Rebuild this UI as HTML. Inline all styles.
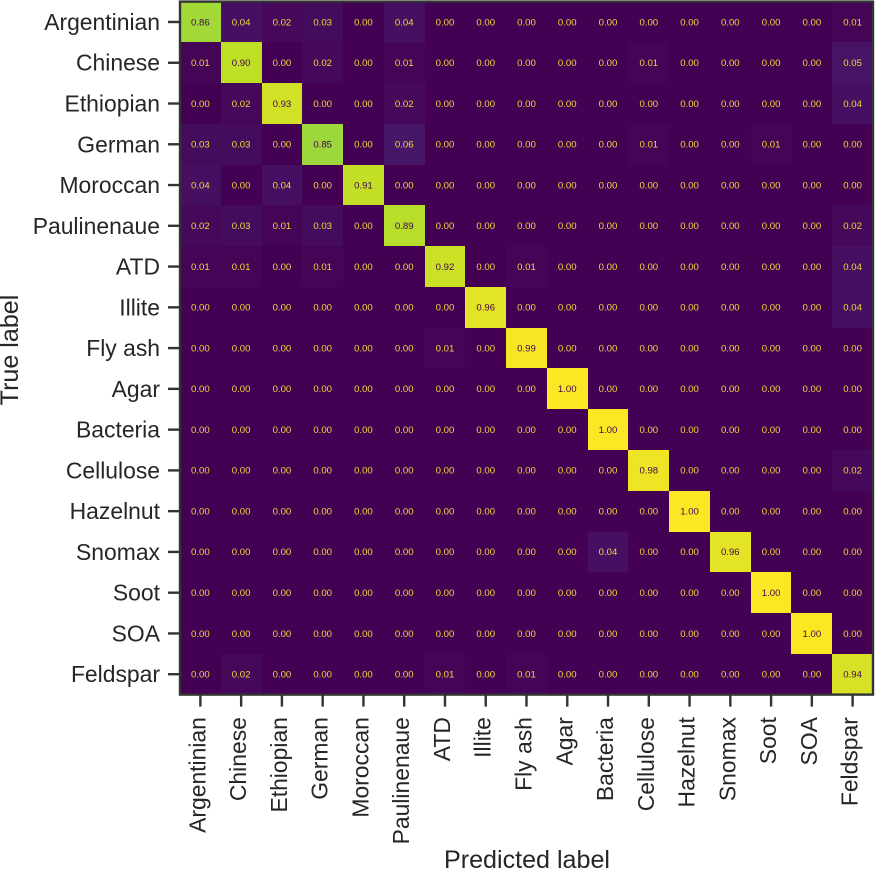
<!DOCTYPE html>
<html lang="en">
<head>
<meta charset="utf-8">
<title>Confusion matrix</title>
<style>
html,body{margin:0;padding:0;background:#fff;width:875px;height:869px;overflow:hidden}
svg{display:block;font-family:"Liberation Sans",Arial,sans-serif}
</style>
</head>
<body>
<svg id="chart" xmlns="http://www.w3.org/2000/svg" width="875" height="869" viewBox="0 0 875 869">
<rect x="0" y="0" width="875" height="869" fill="#ffffff"/>
<g id="cells"></g>
<g id="values"></g>
<g id="xaxis"></g>
<g id="yaxis"></g>
<rect id="frame" fill="none" stroke="#333333" stroke-width="2.4"/>
<text x="527" y="868" text-anchor="middle" font-size="25.1" fill="#262626">Predicted label</text>
<text transform="translate(18,350) rotate(-90)" text-anchor="middle" font-size="25.1" fill="#262626">True label</text>
</svg>
<script>
const classLabels = ["Argentinian","Chinese","Ethiopian","German","Moroccan","Paulinenaue","ATD","Illite","Fly ash","Agar","Bacteria","Cellulose","Hazelnut","Snomax","Soot","SOA","Feldspar"];
const rowArgentinian = [0.86,0.04,0.02,0.03,0,0.04,0,0,0,0,0,0,0,0,0,0,0.01];
const rowChinese     = [0.01,0.90,0,0.02,0,0.01,0,0,0,0,0,0.01,0,0,0,0,0.05];
const rowEthiopian   = [0,0.02,0.93,0,0,0.02,0,0,0,0,0,0,0,0,0,0,0.04];
const rowGerman      = [0.03,0.03,0,0.85,0,0.06,0,0,0,0,0,0.01,0,0,0.01,0,0];
const rowMoroccan    = [0.04,0,0.04,0,0.91,0,0,0,0,0,0,0,0,0,0,0,0];
const rowPaulinenaue = [0.02,0.03,0.01,0.03,0,0.89,0,0,0,0,0,0,0,0,0,0,0.02];
const rowATD         = [0.01,0.01,0,0.01,0,0,0.92,0,0.01,0,0,0,0,0,0,0,0.04];
const rowIllite      = [0,0,0,0,0,0,0,0.96,0,0,0,0,0,0,0,0,0.04];
const rowFlyAsh      = [0,0,0,0,0,0,0.01,0,0.99,0,0,0,0,0,0,0,0];
const rowAgar        = [0,0,0,0,0,0,0,0,0,1.00,0,0,0,0,0,0,0];
const rowBacteria    = [0,0,0,0,0,0,0,0,0,0,1.00,0,0,0,0,0,0];
const rowCellulose   = [0,0,0,0,0,0,0,0,0,0,0,0.98,0,0,0,0,0.02];
const rowHazelnut    = [0,0,0,0,0,0,0,0,0,0,0,0,1.00,0,0,0,0];
const rowSnomax      = [0,0,0,0,0,0,0,0,0,0,0.04,0,0,0.96,0,0,0];
const rowSoot        = [0,0,0,0,0,0,0,0,0,0,0,0,0,0,1.00,0,0];
const rowSOA         = [0,0,0,0,0,0,0,0,0,0,0,0,0,0,0,1.00,0];
const rowFeldspar    = [0,0.02,0,0,0,0,0.01,0,0.01,0,0,0,0,0,0,0,0.94];
const matrixRows = [rowArgentinian,rowChinese,rowEthiopian,rowGerman,rowMoroccan,rowPaulinenaue,rowATD,rowIllite,rowFlyAsh,rowAgar,rowBacteria,rowCellulose,rowHazelnut,rowSnomax,rowSoot,rowSOA,rowFeldspar];

const NS = "http://www.w3.org/2000/svg";
const plotLeft = 180, plotTop = 1.6, plotSize = 693;
const n = classLabels.length;
const band = plotSize / n;
const xScale = function (i) { return plotLeft + i * band; };
const yScale = function (i) { return plotTop + i * band; };

const viridisStops = [[68,1,84],[72,36,117],[65,68,135],[53,95,141],[42,120,142],[33,145,140],[34,168,132],[68,191,112],[122,209,81],[189,223,38],[253,231,37]];
function viridis(v) {
  const t = Math.max(0, Math.min(1, v)) * (viridisStops.length - 1);
  const i = Math.min(Math.floor(t), viridisStops.length - 2);
  const f = t - i;
  const a = viridisStops[i], b = viridisStops[i + 1];
  return "rgb(" + [0, 1, 2].map(function (k) { return Math.round(a[k] + (b[k] - a[k]) * f); }).join(",") + ")";
}

const cellsG = document.getElementById("cells");
const valuesG = document.getElementById("values");
const xG = document.getElementById("xaxis");
const yG = document.getElementById("yaxis");

matrixRows.forEach(function (row, r) {
  row.forEach(function (v, c) {
    const rect = document.createElementNS(NS, "rect");
    
    
    rect.setAttribute("x", Math.round(xScale(c)));
    rect.setAttribute("y", Math.round(yScale(r)));
    rect.setAttribute("width", Math.round(xScale(c + 1)) - Math.round(xScale(c)));
    rect.setAttribute("height", Math.round(yScale(r + 1)) - Math.round(yScale(r)));
    rect.setAttribute("fill", viridis(v));
    cellsG.appendChild(rect);

    const t = document.createElementNS(NS, "text");
    
    
    t.setAttribute("x", xScale(c + 0.5));
    t.setAttribute("y", yScale(r + 0.5) + 3.3);
    t.setAttribute("text-anchor", "middle");
    t.setAttribute("font-size", "9.6");
    t.setAttribute("fill", v > 0.5 ? "#440154" : "#f2d93a");
    t.textContent = v.toFixed(2);
    valuesG.appendChild(t);
  });
});

classLabels.forEach(function (label, i) {
  const cx = xScale(i + 0.5);
  const cy = yScale(i + 0.5);

  const xTick = document.createElementNS(NS, "line");
  
  
  xTick.setAttribute("x1", cx);
  xTick.setAttribute("x2", cx);
  xTick.setAttribute("y1", plotTop + plotSize);
  xTick.setAttribute("y2", plotTop + plotSize + 12);
  xTick.setAttribute("stroke", "#333333");
  xTick.setAttribute("stroke-width", "2.4");
  xG.appendChild(xTick);

  const xLabel = document.createElementNS(NS, "text");
  
  
  xLabel.setAttribute("transform", "translate(" + (cx + 5) + "," + (plotTop + plotSize + 22.5) + ") rotate(-90)");
  xLabel.setAttribute("text-anchor", "end");
  xLabel.setAttribute("font-size", "22.9");
  xLabel.setAttribute("fill", "#262626");
  xLabel.textContent = label;
  xG.appendChild(xLabel);

  const yTick = document.createElementNS(NS, "line");
  
  
  yTick.setAttribute("x1", plotLeft - 12);
  yTick.setAttribute("x2", plotLeft);
  yTick.setAttribute("y1", cy);
  yTick.setAttribute("y2", cy);
  yTick.setAttribute("stroke", "#333333");
  yTick.setAttribute("stroke-width", "2.4");
  yG.appendChild(yTick);

  const yLabel = document.createElementNS(NS, "text");
  
  
  yLabel.setAttribute("x", plotLeft - 20);
  yLabel.setAttribute("y", cy + 8);
  yLabel.setAttribute("text-anchor", "end");
  yLabel.setAttribute("font-size", "22.9");
  yLabel.setAttribute("fill", "#262626");
  yLabel.textContent = label;
  yG.appendChild(yLabel);
});

const frame = document.getElementById("frame");
frame.setAttribute("x", plotLeft);
frame.setAttribute("y", plotTop);
frame.setAttribute("width", plotSize);
frame.setAttribute("height", plotSize);
</script>
</body>
</html>
